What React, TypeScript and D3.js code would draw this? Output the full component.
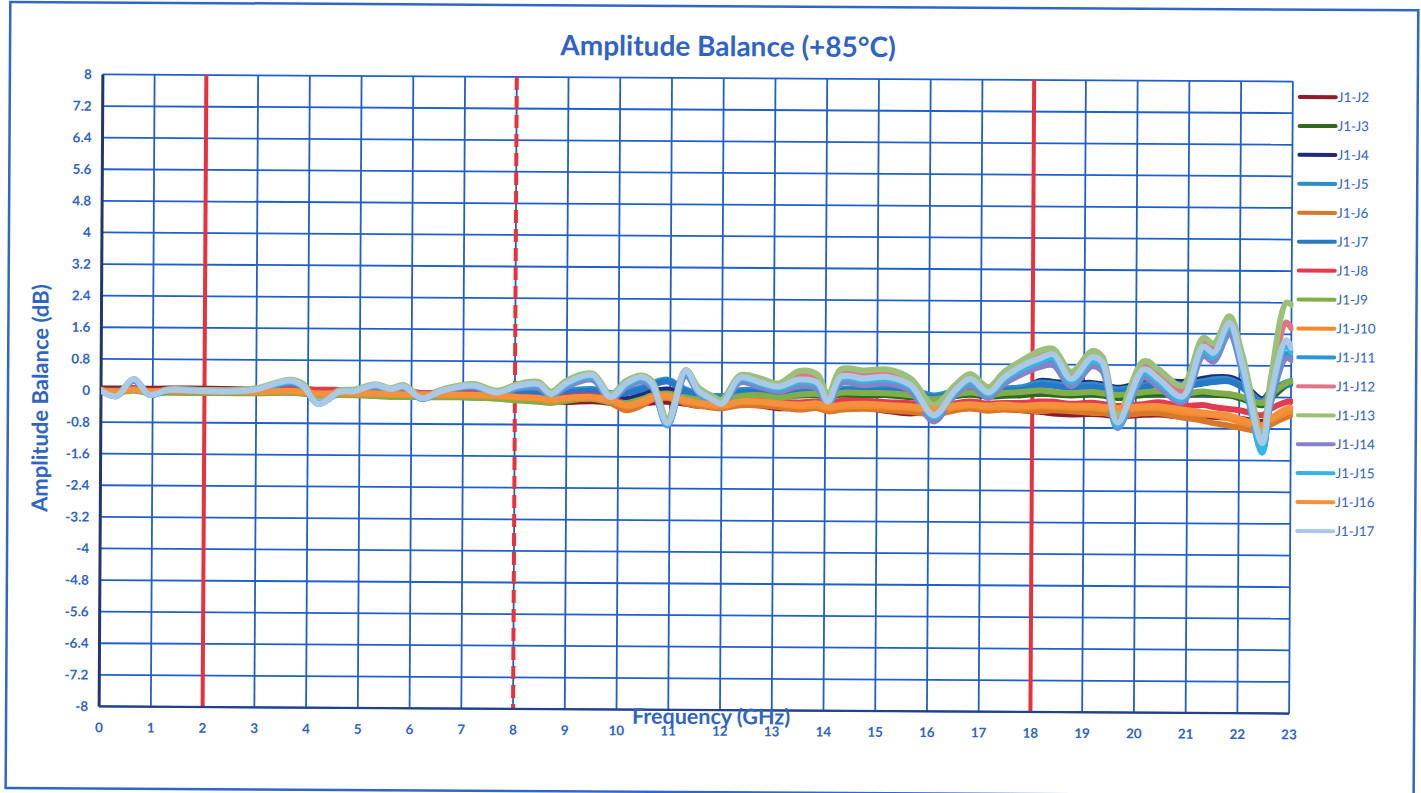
import React from 'react';
import * as d3 from 'd3';

// frequency knots (GHz) shared by every trace
const freqs = [
  0, 0.3, 0.63, 0.93, 1.3, 2, 2.6, 3.0, 3.65, 3.9,
  4.2, 4.6, 4.9, 5.3, 5.6, 5.85, 6.2, 6.6, 7.2, 7.65,
  8.05, 8.45, 8.7, 9.0, 9.5, 9.85, 10.15, 10.45, 10.65, 10.95,
  11.3, 11.55, 11.8, 12.0, 12.35, 12.75, 13.1, 13.5, 13.85, 14.05,
  14.3, 14.75, 15.2, 15.65, 16.1, 16.5, 16.8, 17.15, 17.45, 17.8,
  18.15, 18.4, 18.75, 19.15, 19.35, 19.65, 20.15, 20.45, 20.9, 21.3,
  21.5, 21.8, 22.05, 22.45, 22.6, 22.9, 23.0,
];

const j2 = [
  0.05, 0.05, 0.06, 0.05, 0.06, 0.06, 0.05, 0.05, 0.06, 0.05,
  0.04, 0.03, 0.02, 0.0, -0.02, -0.03, -0.04, -0.06, -0.08, -0.1,
  -0.14, -0.18, -0.2, -0.22, -0.2, -0.24, -0.32, -0.26, -0.22, -0.2,
  -0.25, -0.3, -0.3, -0.28, -0.25, -0.28, -0.35, -0.32, -0.3, -0.34,
  -0.32, -0.32, -0.4, -0.46, -0.38, -0.34, -0.32, -0.36, -0.34, -0.36,
  -0.4, -0.44, -0.46, -0.45, -0.46, -0.5, -0.46, -0.45, -0.5, -0.48,
  -0.5, -0.52, -0.55, -0.62, -0.55, -0.4, -0.35,
];
const j3 = [
  0.02, 0.02, 0.03, 0.0, 0.0, -0.02, -0.02, -0.03, -0.02, -0.04,
  -0.05, -0.05, -0.06, -0.08, -0.1, -0.12, -0.1, -0.1, -0.12, -0.13,
  -0.16, -0.18, -0.16, -0.12, -0.1, -0.15, -0.2, -0.1, 0.0, 0.05,
  -0.05, -0.1, -0.15, -0.15, -0.06, -0.03, -0.06, -0.02, -0.02, -0.06,
  0.0, -0.02, 0.0, -0.05, -0.1, -0.02, 0.02, -0.02, 0.0, 0.02,
  0.06, 0.04, 0.02, 0.04, 0.02, -0.04, 0.04, 0.06, 0.04, 0.08,
  0.06, 0.04, -0.04, -0.2, -0.04, 0.3, 0.35,
];
const j4 = [
  0.0, 0.0, 0.02, -0.01, 0.0, -0.01, 0.0, -0.01, 0.0, -0.02,
  -0.03, -0.02, -0.03, -0.04, -0.05, -0.06, -0.05, -0.05, -0.05, -0.07,
  -0.09, -0.12, -0.11, -0.06, -0.04, -0.09, -0.14, -0.04, 0.06, 0.11,
  0.01, -0.06, -0.12, -0.14, 0.0, 0.05, 0.0, 0.05, 0.07, 0.0,
  0.08, 0.06, 0.1, 0.05, -0.05, 0.08, 0.12, 0.08, 0.12, 0.14,
  0.38, 0.36, 0.32, 0.34, 0.3, 0.22, 0.36, 0.4, 0.38, 0.46,
  0.5, 0.5, 0.36, -0.05, 0.15, 0.35, 0.4,
];
const j5 = [
  0.0, -0.02, 0.05, -0.02, 0.0, 0.0, 0.0, 0.0, 0.05, 0.02,
  -0.05, 0.0, 0.0, 0.02, 0.0, 0.02, -0.02, 0.0, 0.03, -0.02,
  0.01, 0.03, -0.02, 0.06, 0.11, 0.01, 0.06, 0.16, 0.26, 0.36,
  0.11, 0.01, -0.04, -0.06, 0.1, 0.1, 0.05, 0.1, 0.1, 0.0,
  0.15, 0.15, 0.18, 0.15, 0.0, 0.12, 0.2, 0.1, 0.18, 0.22,
  0.34, 0.32, 0.26, 0.3, 0.26, 0.18, 0.3, 0.35, 0.32, 0.4,
  0.45, 0.45, 0.3, -0.1, 0.15, 0.38, 0.42,
];
const j6 = [
  0.0, -0.02, 0.03, -0.02, 0.0, -0.01, -0.01, -0.01, 0.02, 0.0,
  -0.05, -0.03, -0.03, -0.02, -0.04, -0.04, -0.07, -0.05, -0.05, -0.07,
  -0.12, -0.12, -0.22, -0.14, -0.09, -0.24, -0.42, -0.3, -0.15, -0.1,
  -0.24, -0.3, -0.34, -0.36, -0.28, -0.28, -0.32, -0.38, -0.34, -0.42,
  -0.38, -0.35, -0.38, -0.42, -0.48, -0.38, -0.32, -0.38, -0.34, -0.36,
  -0.38, -0.36, -0.38, -0.42, -0.42, -0.48, -0.42, -0.42, -0.52, -0.6,
  -0.66, -0.72, -0.78, -0.85, -0.7, -0.5, -0.45,
];
const j7 = [
  0.0, -0.03, 0.03, -0.03, -0.01, -0.01, -0.01, -0.01, 0.03, 0.0,
  -0.06, -0.02, -0.02, 0.0, -0.02, 0.0, -0.05, -0.03, -0.01, -0.05,
  -0.03, -0.02, -0.07, 0.01, 0.06, -0.04, 0.01, 0.11, 0.21, 0.31,
  0.06, -0.04, -0.09, -0.09, 0.05, 0.05, 0.0, 0.05, 0.05, -0.05,
  0.1, 0.1, 0.12, 0.1, -0.05, 0.07, 0.15, 0.05, 0.13, 0.16,
  0.28, 0.26, 0.2, 0.24, 0.2, 0.12, 0.24, 0.3, 0.26, 0.34,
  0.38, 0.4, 0.25, -0.15, 0.1, 0.32, 0.36,
];
const j8 = [
  0.02, 0.0, 0.05, 0.0, 0.02, 0.02, 0.02, 0.03, 0.08, 0.08,
  0.05, 0.05, 0.02, 0.03, 0.0, 0.02, -0.02, -0.02, -0.02, -0.05,
  -0.09, -0.12, -0.15, -0.09, -0.06, -0.14, -0.24, -0.16, -0.09, -0.04,
  -0.14, -0.19, -0.24, -0.24, -0.12, -0.12, -0.18, -0.2, -0.18, -0.25,
  -0.15, -0.15, -0.18, -0.2, -0.3, -0.2, -0.15, -0.2, -0.18, -0.18,
  -0.14, -0.14, -0.19, -0.16, -0.19, -0.24, -0.19, -0.14, -0.24, -0.2,
  -0.25, -0.3, -0.34, -0.45, -0.3, -0.12, -0.1,
];
const j9 = [
  -0.02, -0.05, 0.0, -0.05, -0.05, -0.05, -0.05, -0.05, -0.03, -0.05,
  -0.1, -0.08, -0.08, -0.1, -0.12, -0.12, -0.12, -0.12, -0.12, -0.15,
  -0.19, -0.22, -0.25, -0.19, -0.14, -0.22, -0.24, -0.14, -0.04, 0.01,
  -0.09, -0.14, -0.19, -0.16, -0.05, -0.02, -0.08, 0.0, 0.02, -0.05,
  0.05, 0.05, 0.05, 0.0, -0.1, 0.02, 0.08, 0.02, 0.07, 0.1,
  0.14, 0.11, 0.08, 0.11, 0.08, 0.04, 0.11, 0.14, 0.08, 0.14,
  0.11, 0.08, 0.01, -0.14, 0.06, 0.36, 0.41,
];
const j10 = [
  0.0, -0.03, 0.02, -0.02, -0.01, -0.02, -0.02, -0.02, 0.0, -0.02,
  -0.06, -0.05, -0.05, -0.05, -0.06, -0.06, -0.07, -0.07, -0.07, -0.09,
  -0.12, -0.15, -0.19, -0.14, -0.12, -0.19, -0.32, -0.24, -0.14, -0.09,
  -0.19, -0.24, -0.29, -0.32, -0.2, -0.2, -0.25, -0.3, -0.28, -0.35,
  -0.3, -0.28, -0.3, -0.32, -0.4, -0.3, -0.25, -0.3, -0.28, -0.3,
  -0.26, -0.26, -0.29, -0.29, -0.32, -0.34, -0.29, -0.29, -0.39, -0.44,
  -0.46, -0.54, -0.64, -0.74, -0.59, -0.39, -0.34,
];
const j11 = [
  0.0, -0.14, 0.25, -0.1, 0.0, 0.0, 0.0, 0.03, 0.22, 0.12,
  -0.3, -0.02, 0.0, 0.14, 0.05, 0.12, -0.16, 0.03, 0.15, -0.03,
  0.13, 0.17, -0.06, 0.2, 0.38, -0.14, 0.2, 0.36, 0.2, -0.78,
  0.5, 0.04, -0.16, -0.28, 0.35, 0.22, 0.12, 0.28, 0.2, -0.24,
  0.36, 0.32, 0.36, 0.15, -0.58, 0.04, 0.32, 0.0, 0.36, 0.62,
  0.84, 0.9, 0.3, 0.85, 0.72, -0.78, 0.56, 0.32, -0.1, 1.12,
  0.98, 1.95, 0.7, -1.35, -0.2, 1.1, 1.0,
];
const j12 = [
  0.0, -0.12, 0.28, -0.08, 0.02, 0.02, 0.02, 0.06, 0.28, 0.16,
  -0.28, 0.02, 0.04, 0.18, 0.08, 0.16, -0.12, 0.06, 0.2, 0.03,
  0.2, 0.25, 0.0, 0.28, 0.47, -0.06, 0.28, 0.44, 0.28, -0.68,
  0.6, 0.12, -0.08, -0.2, 0.45, 0.35, 0.24, 0.48, 0.4, -0.1,
  0.55, 0.5, 0.55, 0.32, -0.38, 0.18, 0.48, 0.15, 0.52, 0.82,
  1.05, 1.12, 0.52, 1.06, 0.92, -0.55, 0.78, 0.55, 0.12, 1.38,
  1.22, 1.95, 0.98, -1.05, 0.2, 1.9, 1.75,
];
const j13 = [
  0.02, -0.1, 0.28, -0.06, 0.04, 0.03, 0.03, 0.08, 0.3, 0.2,
  -0.25, 0.04, 0.06, 0.2, 0.1, 0.18, -0.1, 0.08, 0.22, 0.05,
  0.22, 0.28, 0.04, 0.32, 0.5, -0.02, 0.32, 0.46, 0.32, -0.62,
  0.6, 0.16, -0.04, -0.14, 0.48, 0.4, 0.28, 0.6, 0.5, 0.0,
  0.65, 0.62, 0.65, 0.42, -0.25, 0.25, 0.55, 0.22, 0.6, 0.9,
  1.15, 1.2, 0.62, 1.15, 1.0, -0.45, 0.9, 0.68, 0.28, 1.5,
  1.35, 2.05, 1.1, -0.95, 0.4, 2.4, 2.35,
];
const j14 = [
  0.0, -0.13, 0.26, -0.08, 0.01, 0.0, 0.0, 0.03, 0.24, 0.12,
  -0.3, -0.02, 0.0, 0.14, 0.05, 0.12, -0.17, 0.03, 0.14, -0.04,
  0.12, 0.14, -0.08, 0.16, 0.34, -0.16, 0.16, 0.31, 0.16, -0.8,
  0.46, 0.02, -0.18, -0.3, 0.3, 0.18, 0.08, 0.22, 0.15, -0.28,
  0.3, 0.25, 0.3, 0.1, -0.66, 0.0, 0.25, -0.06, 0.3, 0.55,
  0.74, 0.78, 0.26, 0.76, 0.64, -0.8, 0.48, 0.24, -0.14, 1.04,
  0.9, 1.6, 0.66, -1.3, -0.2, 1.0, 0.95,
];
const j15 = [
  0.0, -0.14, 0.28, -0.1, 0.01, 0.0, 0.0, 0.04, 0.25, 0.14,
  -0.31, -0.01, 0.01, 0.16, 0.06, 0.13, -0.16, 0.04, 0.16, -0.01,
  0.15, 0.2, -0.05, 0.22, 0.42, -0.12, 0.22, 0.38, 0.22, -0.78,
  0.55, 0.05, -0.15, -0.28, 0.38, 0.26, 0.15, 0.32, 0.24, -0.22,
  0.4, 0.36, 0.4, 0.2, -0.55, 0.07, 0.36, 0.03, 0.4, 0.68,
  0.88, 0.96, 0.36, 0.9, 0.78, -0.75, 0.6, 0.36, -0.06, 1.18,
  1.02, 1.78, 0.76, -1.4, -0.12, 1.3, 1.15,
];
const j16 = [
  0.0, -0.02, 0.03, -0.02, 0.0, 0.0, -0.01, -0.01, 0.02, 0.0,
  -0.04, -0.03, -0.03, -0.03, -0.05, -0.05, -0.05, -0.05, -0.05, -0.07,
  -0.1, -0.12, -0.17, -0.12, -0.09, -0.16, -0.29, -0.19, -0.09, -0.04,
  -0.16, -0.22, -0.26, -0.29, -0.18, -0.18, -0.22, -0.25, -0.22, -0.3,
  -0.25, -0.22, -0.25, -0.28, -0.35, -0.25, -0.22, -0.25, -0.22, -0.25,
  -0.22, -0.22, -0.24, -0.24, -0.26, -0.29, -0.24, -0.24, -0.32, -0.39,
  -0.42, -0.46, -0.56, -0.7, -0.54, -0.29, -0.26,
];
const j17 = [
  0.0, -0.14, 0.3, -0.1, 0.02, 0.0, 0.0, 0.05, 0.28, 0.15,
  -0.31, 0.0, 0.02, 0.18, 0.08, 0.15, -0.15, 0.05, 0.18, 0.01,
  0.18, 0.23, -0.02, 0.26, 0.46, -0.09, 0.26, 0.42, 0.26, -0.74,
  0.59, 0.08, -0.12, -0.24, 0.42, 0.3, 0.2, 0.38, 0.3, -0.17,
  0.46, 0.42, 0.46, 0.25, -0.5, 0.12, 0.42, 0.08, 0.46, 0.76,
  0.96, 1.06, 0.44, 0.99, 0.86, -0.66, 0.69, 0.44, 0.01, 1.28,
  1.12, 1.88, 0.86, -1.16, 0.01, 1.45, 1.26,
];

const seriesNames = [
  'J1-J2', 'J1-J3', 'J1-J4', 'J1-J5', 'J1-J6', 'J1-J7', 'J1-J8', 'J1-J9',
  'J1-J10', 'J1-J11', 'J1-J12', 'J1-J13', 'J1-J14', 'J1-J15', 'J1-J16', 'J1-J17',
];
const seriesValues = [j2, j3, j4, j5, j6, j7, j8, j9, j10, j11, j12, j13, j14, j15, j16, j17];
const seriesColors = [
  '#8e1b2a', '#2f6a1e', '#232a78', '#2b8fc9', '#d9772b', '#2878c8', '#e33a4f', '#7fae4a',
  '#f28a2e', '#2d96d9', '#e07685', '#9cc07a', '#8781c6', '#33b6e3', '#f5913d', '#a9c9e6',
];

const xTicks = d3.range(0, 24);
const yTicks = [8, 7.2, 6.4, 5.6, 4.8, 4, 3.2, 2.4, 1.6, 0.8, 0, -0.8, -1.6, -2.4, -3.2, -4, -4.8, -5.6, -6.4, -7.2, -8];
const bandMarkers = [
  { f: 2, dashed: false },
  { f: 8, dashed: true },
  { f: 18, dashed: false },
];

const W = 1421;
const H = 793;
const plot = { left: 101, right: 1291, top: 78, bottom: 710 };
const textBlue = '#2f64c2';
const gridBlue = '#1f5fcc';
const font = 'Lato, "Open Sans", sans-serif';

export default function App() {
  const x = d3.scaleLinear().domain([0, 23]).range([plot.left, plot.right]);
  const y = d3.scaleLinear().domain([-8, 8]).range([plot.bottom, plot.top]);

  const line = d3
    .line<number>()
    .x((_, i) => x(freqs[i]))
    .y((d) => y(d))
    .curve(d3.curveCatmullRom.alpha(0.5));

  return (
    <svg
      width={W}
      height={H}
      style={{ position: 'absolute', left: 0, top: 0, background: '#fff' }}
      fontFamily={font}
    >
      <defs>
        <clipPath id="plotClip">
          <rect x={plot.left} y={plot.top - 2} width={plot.right - plot.left + 2} height={plot.bottom - plot.top + 4} />
        </clipPath>
      </defs>
      <rect width={W} height={H} fill="#fff" />
      <g transform="rotate(0.34 696 394)">
        {/* outer frame */}
        <rect x={8} y={6} width={1408} height={786} fill="none" stroke="#2f66c8" strokeWidth={2.5} />

        <text x={726} y={56} textAnchor="middle" fontSize={28} fontWeight="bold" fill={textBlue}>
          Amplitude Balance (+85°C)
        </text>

        {/* grid */}
        {yTicks.map((t) => (
          <line key={'gy' + t} x1={plot.left} x2={plot.right} y1={y(t)} y2={y(t)} stroke={gridBlue} strokeWidth={1.8} />
        ))}
        {xTicks.map((t) => (
          <line key={'gx' + t} x1={x(t)} x2={x(t)} y1={plot.top} y2={plot.bottom} stroke={gridBlue} strokeWidth={1.8} />
        ))}

        {/* band edge markers */}
        {bandMarkers.map((m) => (
          <line
            key={'m' + m.f}
            x1={x(m.f)}
            x2={x(m.f)}
            y1={plot.top}
            y2={plot.bottom}
            stroke="#e8313c"
            strokeWidth={4}
            strokeDasharray={m.dashed ? '13 6' : undefined}
          />
        ))}

        {/* axis lines */}
        <line x1={plot.left} x2={plot.left} y1={plot.top} y2={plot.bottom} stroke="#243570" strokeWidth={3} />
        <line x1={plot.left} x2={plot.right} y1={plot.bottom} y2={plot.bottom} stroke="#23418a" strokeWidth={2.2} />

        {/* tick labels */}
        {yTicks.map((t) => (
          <text key={'ly' + t} x={90} y={y(t)} dy="0.35em" textAnchor="end" fontSize={13.5} fontWeight="bold" fill={textBlue}>
            {t}
          </text>
        ))}
        {xTicks.map((t) => (
          <text key={'lx' + t} x={x(t)} y={plot.bottom + 21} dy="0.35em" textAnchor="middle" fontSize={13.5} fontWeight="bold" fill={textBlue}>
            {t}
          </text>
        ))}

        {/* traces */}
        <g clipPath="url(#plotClip)">
          {seriesValues.map((vals, i) => (
            <path
              key={seriesNames[i]}
              d={line(vals) || ''}
              fill="none"
              stroke={seriesColors[i]}
              strokeWidth={6}
              strokeLinejoin="round"
              strokeLinecap="round"
            />
          ))}
        </g>

        <text
          transform={`translate(48,402) rotate(-90)`}
          textAnchor="middle"
          fontSize={22}
          fontWeight="bold"
          fill={textBlue}
        >
          Amplitude Balance (dB)
        </text>
        <text x={713} y={724} textAnchor="middle" fontSize={21.5} fontWeight="bold" fill={textBlue}>
          Frequency (GHz)
        </text>

        {/* legend */}
        {seriesNames.map((name, i) => {
          const ly = 93.4 + i * 28.93;
          return (
            <g key={'lg' + name}>
              <line x1={1298} x2={1334} y1={ly} y2={ly} stroke={seriesColors[i]} strokeWidth={4} strokeLinecap="round" />
              <text x={1336} y={ly} dy="0.35em" fontSize={13.5} fill={textBlue}>
                {name}
              </text>
            </g>
          );
        })}
      </g>
    </svg>
  );
}
